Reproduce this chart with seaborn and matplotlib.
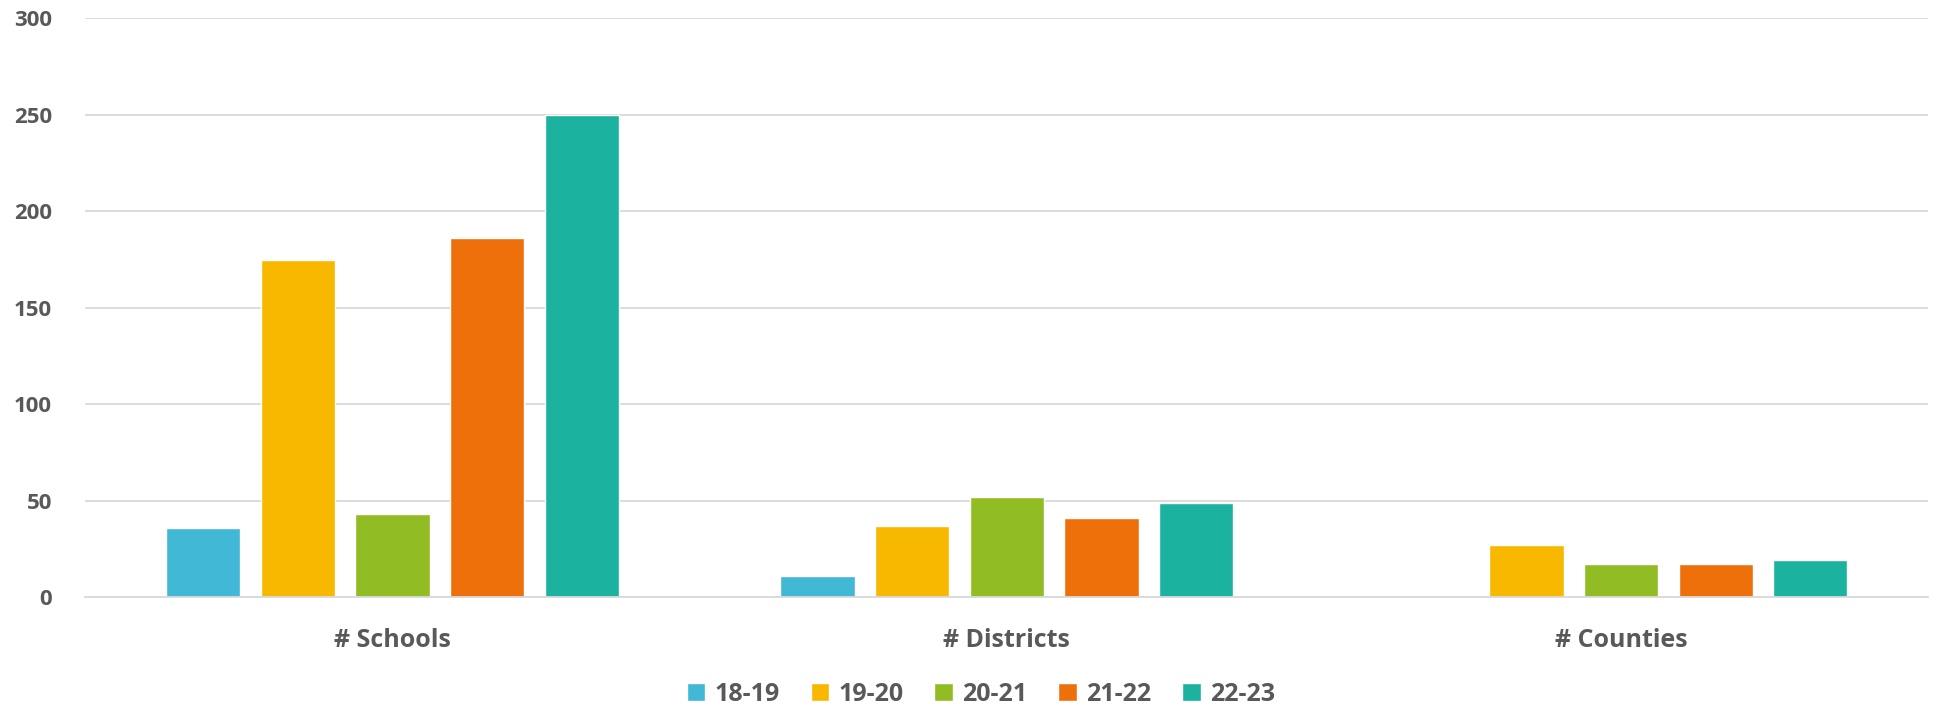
import numpy as np
import pandas as pd
import matplotlib
matplotlib.use("Agg")
import matplotlib.pyplot as plt
import seaborn as sns

# data
categories = ["# Schools", "# Districts", "# Counties"]
years = ["18-19", "19-20", "20-21", "21-22", "22-23"]
schools = [36, 175, 43, 186, 250]
districts = [11, 37, 52, 41, 49]
counties = [np.nan, 27, 17, 17, 19]

colors = ["#41B8D5", "#F9B800", "#92BC24", "#EE700A", "#1BB29F"]
text_color = "#595959"

rows = []
for cat, vals in zip(categories, [schools, districts, counties]):
    for yr, v in zip(years, vals):
        rows.append({"category": cat, "year": yr, "count": v})
df = pd.DataFrame(rows)

sns.set_style("white")
plt.rcParams["font.family"] = ["Open Sans", "DejaVu Sans"]

fig, ax = plt.subplots(figsize=(19.38, 7.10), dpi=100)
fig.subplots_adjust(left=0.044, right=0.995, top=0.974, bottom=0.159)

sns.barplot(data=df, x="category", y="count", hue="year", order=categories,
            hue_order=years, palette=colors, width=0.77, gap=0.215,
            saturation=1, ax=ax, legend=True)

ax.set_ylim(0, 300)
ax.set_yticks(range(0, 301, 50))
ax.yaxis.grid(True, color="#D9D9D9", linewidth=1.3)
ax.set_axisbelow(True)
for side in ["left", "right", "top"]:
    ax.spines[side].set_visible(False)
ax.spines["bottom"].set_color("#D9D9D9")
ax.spines["bottom"].set_linewidth(1.3)

ax.set_xlabel("")
ax.set_ylabel("")
ax.tick_params(axis="y", length=0, pad=24, labelsize=16, labelcolor=text_color)
ax.tick_params(axis="x", length=0, pad=22, labelsize=18, labelcolor=text_color)
for lbl in ax.get_yticklabels() + ax.get_xticklabels():
    lbl.set_fontweight("bold")

handles, labels = ax.get_legend_handles_labels()
ax.get_legend().remove()
leg = fig.legend(handles, labels, loc="center", bbox_to_anchor=(0.506, 0.022),
                 ncol=5, frameon=False, fontsize=18, handlelength=0.75,
                 handleheight=0.75, handletextpad=0.35, columnspacing=1.25)
for t in leg.get_texts():
    t.set_color(text_color)
    t.set_fontweight("bold")

fig.savefig("out.png", dpi=100)
